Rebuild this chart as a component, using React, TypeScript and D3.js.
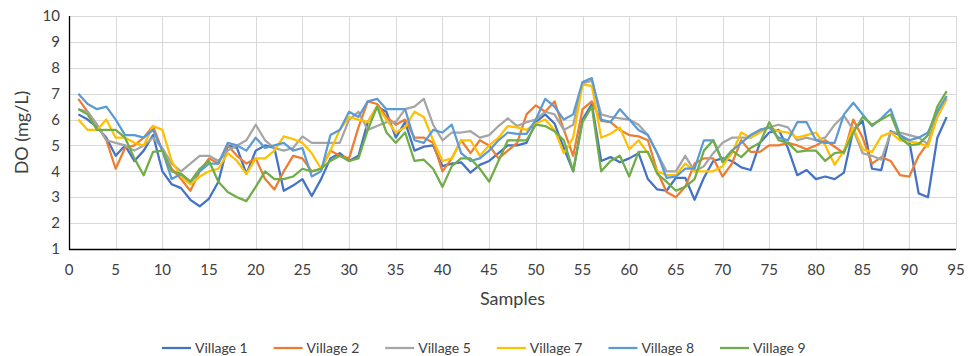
import React from 'react';
import * as d3 from 'd3';

// DO readings per sample (1..94)
const village1 = [
  6.2, 6.0, 5.7, 5.3, 4.6, 5.0, 4.4, 4.8, 5.4, 4.0,
  3.5, 3.35, 2.9, 2.65, 2.95, 3.6, 5.0, 4.9, 3.9, 4.8,
  5.0, 4.9, 3.25, 3.45, 3.7, 3.05, 3.7, 4.5, 4.7, 4.4,
  4.6, 5.9, 6.5, 6.3, 5.3, 5.9, 4.8, 4.95, 5.0, 4.2,
  4.3, 4.35, 3.95, 4.25, 4.4, 4.7, 5.0, 5.0, 5.1, 5.9,
  6.2, 5.85, 4.9, 4.0, 6.0, 6.6, 4.4, 4.55, 4.35, 4.5,
  4.7, 3.7, 3.3, 3.25, 3.75, 3.75, 2.9, 3.75, 4.4, 4.5,
  4.4, 4.15, 4.05, 5.1, 5.5, 5.6, 4.9, 3.85, 4.05, 3.7,
  3.8, 3.7, 3.95, 5.6, 5.95, 4.1, 4.05, 5.55, 5.4, 5.15,
  3.15, 3.0, 5.3, 6.1,
];
const village2 = [
  6.8, 6.3, 5.8, 5.2, 4.1, 4.9, 5.0, 5.3, 5.75, 4.8,
  4.1, 3.7, 3.25, 4.0, 4.5, 4.3, 5.0, 4.6, 4.3, 4.5,
  3.7, 3.3, 4.0, 4.6, 4.5, 4.0, 4.1, 4.8, 4.6, 4.5,
  5.7, 6.7, 6.6, 6.1, 5.8, 6.0, 5.3, 5.3, 5.1, 4.0,
  4.5, 5.2, 4.7, 5.2, 5.0, 4.5, 4.8, 5.1, 6.2, 6.55,
  6.3, 6.7, 5.6, 4.6, 6.4, 6.7, 5.95, 5.9, 5.6, 5.4,
  5.35, 5.2, 4.0, 3.2, 3.0, 3.4, 4.3, 4.5, 4.5, 3.8,
  4.3, 5.2, 4.75, 4.75, 5.0, 5.0, 5.1, 5.0, 4.85, 5.0,
  5.2, 4.95, 4.7, 6.0, 5.3, 4.3, 4.55, 4.4, 3.85, 3.8,
  4.6, 5.1, 6.1, 6.8,
];
const village5 = [
  6.4, 6.3, 5.8, 5.2, 5.1, 5.0, 4.8, 5.0, 5.3, 4.9,
  4.3, 4.0, 4.3, 4.6, 4.6, 4.4, 4.8, 5.0, 5.2, 5.8,
  5.2, 4.9, 4.8, 4.9, 5.35, 5.1, 5.1, 5.1, 5.1, 6.0,
  6.3, 5.6, 5.75, 5.9, 5.9, 6.4, 6.5, 6.8, 5.8, 5.2,
  5.5, 5.5, 5.55, 5.3, 5.4, 5.75, 6.05, 5.75, 5.9, 6.0,
  6.3, 6.2, 5.6, 5.8, 7.4, 7.5, 6.2, 6.1, 6.05, 6.0,
  5.8, 5.4, 4.7, 4.0, 4.0, 4.6, 4.0, 4.2, 4.7, 5.1,
  5.3, 5.3, 5.3, 5.6, 5.7, 5.8, 5.7, 5.2, 5.3, 5.2,
  5.3, 5.8, 6.15, 5.6, 4.7, 4.6, 4.45, 5.5, 5.5, 5.4,
  5.3, 5.05, 6.3, 6.9,
];
const village7 = [
  6.0, 5.6, 5.6, 6.0, 5.3, 5.3, 5.1, 5.0, 5.75, 5.6,
  4.4, 3.8, 3.5, 3.8, 4.0, 4.1, 4.7, 4.4, 3.9, 4.5,
  4.5, 4.8, 5.35, 5.25, 5.1, 4.7, 4.1, 4.8, 5.6, 6.1,
  6.0, 5.9, 6.5, 6.0, 5.5, 5.7, 6.3, 6.1, 5.2, 4.4,
  4.5, 5.2, 5.2, 4.6, 5.0, 5.3, 5.75, 5.7, 5.6, 5.85,
  6.0, 5.6, 4.7, 5.3, 7.35, 7.3, 5.3, 5.45, 5.7, 4.85,
  5.2, 4.7, 4.0, 3.85, 3.85, 4.3, 4.0, 4.0, 4.0, 4.2,
  4.7, 5.5, 5.3, 5.5, 5.7, 5.55, 5.5, 5.3, 5.4, 5.5,
  5.0, 4.25, 4.8, 5.7, 4.85, 4.75, 5.35, 5.5, 5.2, 5.15,
  5.1, 4.95, 6.1, 6.8,
];
const village8 = [
  7.0, 6.6, 6.4, 6.5, 6.0, 5.4, 5.4, 5.3, 5.6, 4.8,
  3.7, 3.9, 3.6, 4.0, 4.3, 4.3, 5.1, 5.0, 4.8, 5.3,
  4.9, 5.0, 5.1, 4.8, 4.9, 3.8, 4.0, 5.4, 5.6, 6.3,
  6.1, 6.7, 6.8, 6.4, 6.4, 6.4, 5.2, 5.1, 5.6, 5.5,
  5.8, 4.7, 4.4, 4.5, 4.8, 5.2, 5.5, 5.45, 5.45, 6.0,
  6.8, 6.5, 6.0, 6.2, 7.45, 7.6, 6.0, 5.9, 6.4, 6.0,
  5.6, 5.4, 4.7, 3.75, 3.8, 4.1, 4.1, 5.2, 5.2, 4.4,
  4.8, 5.1, 5.4, 5.6, 5.7, 5.3, 5.2, 5.9, 5.9, 5.2,
  5.1, 5.1, 6.2, 6.65, 6.2, 5.75, 6.05, 6.4, 5.4, 5.2,
  5.3, 5.5, 6.3, 6.9,
];
const village9 = [
  6.4, 6.2, 5.6, 5.6, 5.6, 5.3, 4.5, 3.85, 4.75, 4.8,
  4.0, 3.9, 3.6, 4.1, 4.4, 3.6, 3.2, 3.0, 2.85, 3.4,
  4.0, 3.7, 3.7, 3.8, 4.1, 4.0, 4.1, 4.4, 4.6, 4.4,
  4.5, 5.6, 6.5, 5.5, 5.1, 5.5, 4.4, 4.45, 4.1, 3.4,
  4.2, 4.5, 4.5, 4.1, 3.6, 4.4, 5.2, 5.2, 5.2, 5.8,
  5.75, 5.55, 5.2, 4.0, 5.9, 6.5, 4.0, 4.4, 4.6, 3.8,
  4.75, 4.75, 3.9, 3.6, 3.25, 3.4, 3.7, 4.8, 5.2, 4.35,
  4.8, 4.55, 4.9, 5.1, 5.9, 5.2, 5.1, 4.75, 4.8, 4.8,
  4.4, 4.7, 4.75, 5.5, 6.1, 5.8, 6.0, 6.2, 5.3, 5.0,
  5.05, 5.4, 6.5, 7.1,
];

const seriesNames = ['Village 1', 'Village 2', 'Village 5', 'Village 7', 'Village 8', 'Village 9'];
const seriesValues = [village1, village2, village5, village7, village8, village9];
const seriesColors = ['#4472C4', '#ED7D31', '#A5A5A5', '#FFC000', '#5B9BD5', '#70AD47'];
const xTicks = d3.range(0, 100, 5);
const yTicks = d3.range(1, 11, 1);

const W = 968;
const H = 356;
const margin = { top: 16, right: 12, bottom: 107, left: 69 };
const font = 'Lato, "Liberation Sans", sans-serif';

export default function App() {
  const x = d3.scaleLinear().domain([0, 95]).range([margin.left, W - margin.right]);
  const y = d3.scaleLinear().domain([1, 10]).range([H - margin.bottom, margin.top]);

  const line = d3
    .line<number>()
    .x((_, i) => x(i + 1))
    .y((d) => y(d));

  const legendX = d3.scalePoint<string>().domain(seriesNames).range([162, 720]);

  return (
    <svg
      width={W}
      height={H}
      style={{ position: 'absolute', left: 0, top: 0, background: '#fff' }}
      fontFamily={font}
    >
      {/* grid */}
      <g stroke="#D9D9D9" strokeWidth={1}>
        {yTicks.map((t) => (
          <line key={'h' + t} x1={x(0)} x2={x(95)} y1={Math.round(y(t)) + 0.5} y2={Math.round(y(t)) + 0.5} />
        ))}
        {xTicks.map((t) => (
          <line key={'v' + t} x1={Math.round(x(t)) + 0.5} x2={Math.round(x(t)) + 0.5} y1={y(10)} y2={y(1)} />
        ))}
      </g>

      {/* series */}
      {seriesValues.map((vals, k) => (
        <path
          key={seriesNames[k]}
          d={line(vals) || ''}
          fill="none"
          stroke={seriesColors[k]}
          strokeWidth={2.25}
          strokeLinejoin="round"
        />
      ))}

      {/* axes */}
      <line x1={Math.round(x(0)) + 0.5} x2={Math.round(x(0)) + 0.5} y1={y(10)} y2={y(1) + 0.5} stroke="#000" strokeWidth={1.3} />
      <line x1={x(0)} x2={x(95)} y1={Math.round(y(1)) + 0.5} y2={Math.round(y(1)) + 0.5} stroke="#000" strokeWidth={1.3} />

      {yTicks.map((t) => (
        <text key={'yl' + t} x={x(0) - 9} y={y(t)} dy="0.35em" textAnchor="end" fontSize={15} fill="#404040">
          {t}
        </text>
      ))}
      {xTicks.map((t) => (
        <text key={'xl' + t} x={x(t)} y={y(1) + 26} textAnchor="middle" fontSize={15} fill="#404040">
          {t}
        </text>
      ))}

      <text
        transform={`translate(28,${(y(10) + y(1)) / 2}) rotate(-90)`}
        textAnchor="middle"
        fontSize={18}
        fill="#404040"
      >
        DO (mg/L)
      </text>
      <text x={(x(0) + x(95)) / 2} y={305} textAnchor="middle" fontSize={18} fill="#404040">
        Samples
      </text>

      {/* legend */}
      {seriesNames.map((name, k) => {
        const lx = legendX(name) || 0;
        return (
          <g key={'lg' + name}>
            <line x1={lx} x2={lx + 29} y1={348} y2={348} stroke={seriesColors[k]} strokeWidth={2.25} />
            <text x={lx + 33} y={348} dy="0.35em" fontSize={14} fill="#404040">
              {name}
            </text>
          </g>
        );
      })}
    </svg>
  );
}
